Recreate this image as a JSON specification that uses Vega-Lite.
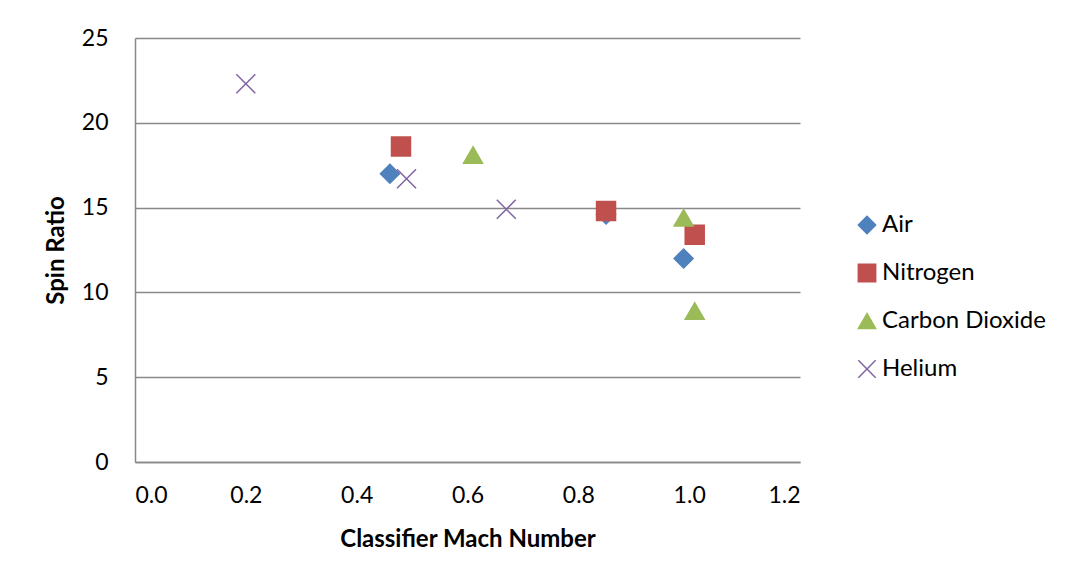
{
  "$schema": "https://vega.github.io/schema/vega-lite/v6.json",
  "autosize": {"type": "none"},
  "width": 665,
  "height": 424,
  "padding": {"left": 135, "top": 38, "right": 271, "bottom": 116},
  "background": "white",
  "config": {
    "font": "Lato",
    "view": {"stroke": null}
  },
  "data": {
    "values": [
      {"gas": "Air", "mach": 0.46, "spin": 17.0},
      {"gas": "Air", "mach": 0.85, "spin": 14.6},
      {"gas": "Air", "mach": 0.99, "spin": 12.0},
      {"gas": "Nitrogen", "mach": 0.48, "spin": 18.6},
      {"gas": "Nitrogen", "mach": 0.85, "spin": 14.8},
      {"gas": "Nitrogen", "mach": 1.01, "spin": 13.4},
      {"gas": "Carbon Dioxide", "mach": 0.61, "spin": 18.1},
      {"gas": "Carbon Dioxide", "mach": 0.99, "spin": 14.4},
      {"gas": "Carbon Dioxide", "mach": 1.01, "spin": 8.9},
      {"gas": "Helium", "mach": 0.2, "spin": 22.3},
      {"gas": "Helium", "mach": 0.49, "spin": 16.7},
      {"gas": "Helium", "mach": 0.67, "spin": 14.9}
    ]
  },
  "mark": {"type": "point", "filled": true, "opacity": 1, "size": 360, "strokeWidth": 1.5},
  "encoding": {
    "x": {
      "field": "mach", "type": "quantitative",
      "scale": {"domain": [0, 1.2], "nice": false, "zero": false},
      "axis": {
        "title": "Classifier Mach Number", "values": [0, 0.2, 0.4, 0.6, 0.8, 1.0, 1.2], "format": ".1f",
        "grid": false, "ticks": false, "domainColor": "#888888", "domainWidth": 1.5,
        "labelFontSize": 23, "labelColor": "#000000", "labelPadding": 22,
        "titleFontSize": 24, "titleFontWeight": "bold", "titleColor": "#000000", "titlePadding": 20
      }
    },
    "y": {
      "field": "spin", "type": "quantitative",
      "scale": {"domain": [0, 25], "nice": false},
      "axis": {
        "title": "Spin Ratio", "values": [0, 5, 10, 15, 20, 25],
        "grid": true, "gridColor": "#888888", "gridWidth": 1.5, "ticks": false, "domainColor": "#888888", "domainWidth": 1.5,
        "labelFontSize": 23, "labelColor": "#000000", "labelPadding": 27,
        "titleFontSize": 24, "titleFontWeight": "bold", "titleColor": "#000000", "titlePadding": 13
      }
    },
    "color": {
      "field": "gas", "type": "nominal",
      "scale": {"domain": ["Air", "Nitrogen", "Carbon Dioxide", "Helium"], "range": ["#4F81BD", "#C0504D", "#9BBB59", "#8064A2"]},
      "legend": {
        "title": null, "orient": "none", "legendX": 720, "legendY": 175,
        "labelFontSize": 24, "labelLimit": 400, "labelColor": "#000000", "symbolSize": 300, "rowPadding": 24, "labelOffset": 3, "symbolStrokeWidth": 1.5
      }
    },
    "stroke": {
      "field": "gas", "type": "nominal",
      "scale": {"domain": ["Air", "Nitrogen", "Carbon Dioxide", "Helium"], "range": ["#4F81BD", "#C0504D", "#9BBB59", "#8064A2"]},
      "legend": null
    },
    "shape": {
      "field": "gas", "type": "nominal",
      "scale": {"domain": ["Air", "Nitrogen", "Carbon Dioxide", "Helium"], "range": ["diamond", "square", "triangle-up", "M-1,-1L1,1M-1,1L1,-1"]},
      "legend": {
        "title": null, "orient": "none", "legendX": 720, "legendY": 175,
        "labelFontSize": 24, "labelLimit": 400, "labelColor": "#000000", "symbolSize": 300, "rowPadding": 24, "labelOffset": 3, "symbolStrokeWidth": 1.5
      }
    }
  }
}
